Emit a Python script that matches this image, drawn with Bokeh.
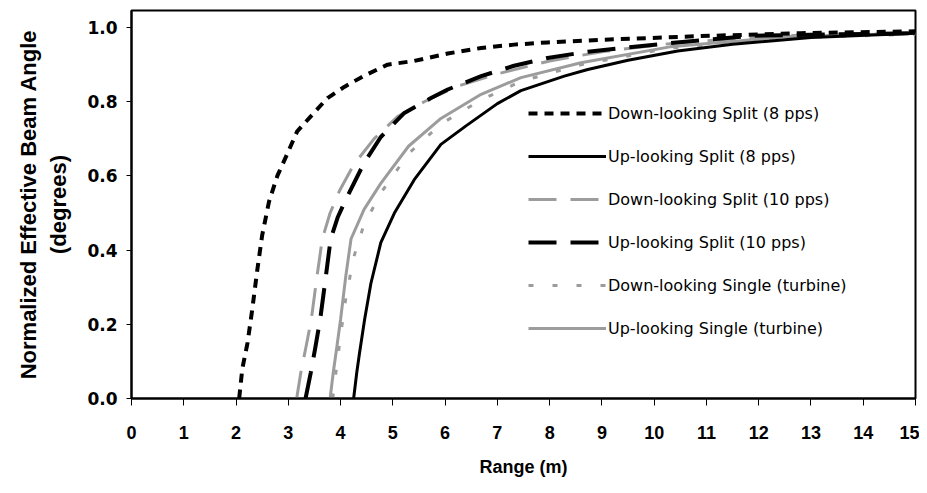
from bokeh.plotting import figure
from bokeh.models import Range1d, FixedTicker, PrintfTickFormatter, Legend, LegendItem
from bokeh.embed import file_html
from bokeh.resources import INLINE

# ---- data ----
x_ticks = list(range(0, 16))
y_ticks = [0.0, 0.2, 0.4, 0.6, 0.8, 1.0]

dl_split8_x = [2.06, 2.12, 2.22, 2.31, 2.41, 2.50, 2.63, 2.79, 2.95, 3.17, 3.49, 3.75, 4.07, 4.45, 4.90, 5.41, 6.05, 6.69, 7.32, 7.96, 8.98, 10.9, 12.8, 15.0]
dl_split8_y = [0.0, 0.08, 0.15, 0.24, 0.35, 0.44, 0.53, 0.60, 0.65, 0.72, 0.77, 0.81, 0.84, 0.87, 0.90, 0.91, 0.93, 0.945, 0.954, 0.96, 0.967, 0.977, 0.985, 0.99]

ul_split8_x = [4.25, 4.31, 4.36, 4.46, 4.58, 4.77, 5.03, 5.41, 5.92, 6.40, 7.00, 7.45, 8.28, 8.73, 9.50, 10.45, 11.5, 13.0, 15.0]
ul_split8_y = [0.0, 0.07, 0.12, 0.213, 0.31, 0.42, 0.50, 0.59, 0.685, 0.735, 0.795, 0.83, 0.869, 0.887, 0.912, 0.937, 0.955, 0.973, 0.985]

dl_split10_x = [3.16, 3.24, 3.34, 3.44, 3.54, 3.65, 3.80, 3.98, 4.25, 4.64, 5.09, 5.60, 6.20, 7.00, 8.00, 9.00, 10.5, 12.5, 15.0]
dl_split10_y = [0.0, 0.07, 0.14, 0.213, 0.32, 0.43, 0.50, 0.56, 0.63, 0.70, 0.76, 0.80, 0.84, 0.875, 0.91, 0.935, 0.96, 0.978, 0.985]

ul_split10_x = [3.33, 3.43, 3.52, 3.61, 3.71, 3.81, 3.95, 4.13, 4.45, 4.77, 5.22, 5.73, 6.05, 6.69, 7.32, 7.96, 8.73, 10.3, 11.9, 15.0]
ul_split10_y = [0.0, 0.07, 0.14, 0.213, 0.32, 0.43, 0.49, 0.545, 0.635, 0.705, 0.77, 0.81, 0.833, 0.869, 0.897, 0.918, 0.935, 0.958, 0.978, 0.985]

dl_single_x = [3.85, 3.92, 4.00, 4.10, 4.25, 4.45, 4.80, 5.30, 5.92, 6.69, 7.45, 8.60, 10.3, 12.5, 15.0]
dl_single_y = [0.0, 0.08, 0.17, 0.27, 0.38, 0.47, 0.56, 0.66, 0.74, 0.805, 0.855, 0.90, 0.945, 0.972, 0.982]

ul_single_x = [3.80, 3.86, 3.93, 4.00, 4.10, 4.20, 4.45, 4.77, 5.30, 5.92, 6.69, 7.45, 8.60, 10.3, 12.5, 15.0]
ul_single_y = [0.0, 0.07, 0.14, 0.213, 0.33, 0.43, 0.51, 0.58, 0.68, 0.755, 0.82, 0.865, 0.905, 0.948, 0.975, 0.985]

labels = [
    "Down-looking Split (8 pps)",
    "Up-looking Split (8 pps)",
    "Down-looking Split (10 pps)",
    "Up-looking Split (10 pps)",
    "Down-looking Single (turbine)",
    "Up-looking Single (turbine)",
]

GRAY = "#9c9c9c"

p = figure(width=919, height=485, x_range=Range1d(0, 15), y_range=Range1d(0, 1.046),
           output_backend="svg", toolbar_location=None,
           min_border_left=131, min_border_right=4, min_border_top=10, min_border_bottom=87)
p.background_fill_color = "white"
p.border_fill_color = "white"
p.xgrid.visible = False
p.ygrid.visible = False
p.outline_line_color = "black"
p.outline_line_width = 2

r6 = p.line(ul_single_x, ul_single_y, line_color=GRAY, line_width=3)
r5 = p.line(dl_single_x, dl_single_y, line_color=GRAY, line_width=3, line_dash="5 19")
r3 = p.line(dl_split10_x, dl_split10_y, line_color=GRAY, line_width=3, line_dash="28 14")
r2 = p.line(ul_split8_x, ul_split8_y, line_color="black", line_width=3)
r4 = p.line(ul_split10_x, ul_split10_y, line_color="black", line_width=4, line_dash="28 14")
r1 = p.line(dl_split8_x, dl_split8_y, line_color="black", line_width=4, line_dash="9 7")

legend = Legend(items=[LegendItem(label=l, renderers=[r]) for l, r in
                       zip(labels, [r1, r2, r3, r4, r5, r6])],
                location=(397, 60), border_line_color=None, background_fill_alpha=0,
                padding=0, margin=0, spacing=23, glyph_width=78, glyph_height=20,
                label_height=20, label_standoff=2,
                label_text_font="DejaVu Sans", label_text_font_size="16px",
                label_text_color="black")
p.add_layout(legend, "center")

for ax in (p.xaxis[0], p.yaxis[0]):
    ax.axis_line_color = "black"
    ax.axis_line_width = 2
    ax.major_tick_line_color = "black"
    ax.major_tick_line_width = 1
    ax.minor_tick_line_color = None
    ax.major_tick_in = 0
    ax.major_label_text_color = "black"
    ax.major_label_text_font_style = "bold"
    ax.axis_label_text_font_style = "bold"
    ax.axis_label_text_color = "black"

p.xaxis.ticker = FixedTicker(ticks=x_ticks)
p.xaxis.major_tick_out = 7
p.xaxis.major_label_standoff = 20
p.xaxis.major_label_text_font = "Liberation Sans"
p.xaxis.major_label_text_font_size = "18px"
p.xaxis.axis_label = "Range (m)"
p.xaxis.axis_label_text_font = "Liberation Sans"
p.xaxis.axis_label_text_font_size = "18px"
p.xaxis.axis_label_standoff = 15

p.yaxis.ticker = FixedTicker(ticks=y_ticks)
p.yaxis.formatter = PrintfTickFormatter(format="%.1f")
p.yaxis.major_tick_out = 5
p.yaxis.major_label_standoff = 9
p.yaxis.major_label_text_font = "DejaVu Sans"
p.yaxis.major_label_text_font_size = "17px"
p.yaxis.axis_label = "Normalized Effective Beam Angle\n(degrees)"
p.yaxis.axis_label_text_font = "Liberation Sans"
p.yaxis.axis_label_text_font_size = "22px"
p.yaxis.axis_label_standoff = 13

open("out.html", "w").write(file_html(p, INLINE))
